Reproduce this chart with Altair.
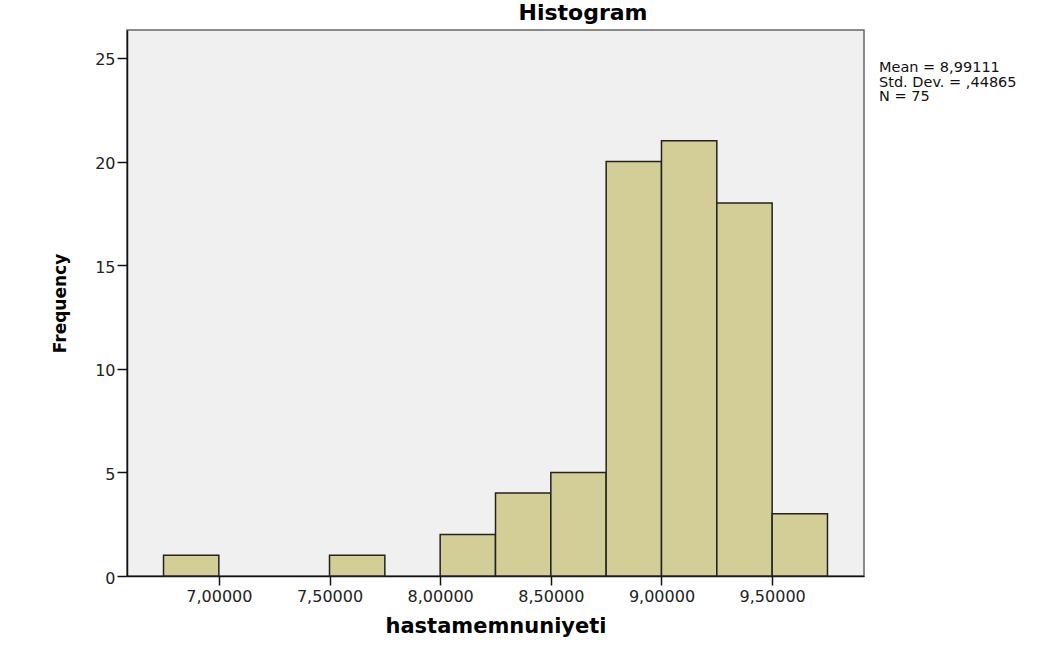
import altair as alt
import pandas as pd

# Histogram of hastamemnuniyeti, bin width 0.25
bin_start = [6.75, 7.00, 7.25, 7.50, 7.75, 8.00, 8.25, 8.50, 8.75, 9.00, 9.25, 9.50]
bin_end = [7.00, 7.25, 7.50, 7.75, 8.00, 8.25, 8.50, 8.75, 9.00, 9.25, 9.50, 9.75]
counts = [1, 0, 0, 1, 0, 2, 4, 5, 20, 21, 18, 3]

x_ticks = [7.0, 7.5, 8.0, 8.5, 9.0, 9.5]
y_ticks = [0, 5, 10, 15, 20, 25]

stats_lines = ["Mean = 8,99111", "Std. Dev. = ,44865", "N = 75"]
chart_title = "Histogram"

bars_df = pd.DataFrame({"start": bin_start, "end": bin_end, "count": counts})
bars_df = bars_df[bars_df["count"] > 0]

stats_df = pd.DataFrame({"line": stats_lines, "row": list(range(len(stats_lines)))})

W, H = 737, 546
FONT = "DejaVu Sans"

x_scale = alt.Scale(domain=[6.585, 9.915], zero=False, nice=False)
y_scale = alt.Scale(domain=[0, 26.35], nice=False)

bars = alt.Chart(bars_df).mark_rect(
    fill="#D3CE97", stroke="#222222", strokeWidth=1.5, opacity=1
).encode(
    x=alt.X(
        "start:Q",
        scale=x_scale,
        axis=alt.Axis(
            values=x_ticks,
            labelExpr="replace(format(datum.value, '.5f'), '.', ',')",
            title="hastamemnuniyeti",
            titleFont=FONT,
            titleFontSize=21,
            titleFontWeight="bold",
            titleColor="#000000",
            titleBaseline="alphabetic",
            titleY=56,
            labelFont=FONT,
            labelFontSize=16,
            labelColor="#222222",
            labelPadding=3,
            tickSize=9,
            tickColor="#111111",
            tickWidth=1.5,
            domainColor="#111111",
            domainWidth=1.5,
            grid=False,
            labelFlush=False,
            labelOverlap=False,
        ),
    ),
    x2="end:Q",
    y=alt.Y(
        "count:Q",
        scale=y_scale,
        axis=alt.Axis(
            values=y_ticks,
            title="Frequency",
            titleFont=FONT,
            titleFontSize=17,
            titleFontWeight="bold",
            titleColor="#000000",
            titleAngle=-90,
            titleBaseline="alphabetic",
            titleX=-62,
            titleY=H / 2,
            labelFont=FONT,
            labelFontSize=16,
            labelColor="#222222",
            labelPadding=2,
            labelOffset=2,
            tickSize=10,
            tickColor="#111111",
            tickWidth=1.5,
            domainColor="#111111",
            domainWidth=1.5,
            grid=False,
            labelOverlap=False,
        ),
    ),
    y2=alt.datum(0),
)

title_text = alt.Chart(pd.DataFrame({"t": [chart_title]})).mark_text(
    font=FONT, fontSize=22, fontWeight="bold", color="#000000",
    align="center", baseline="alphabetic",
).encode(
    x=alt.value(456),
    y=alt.value(-10),
    text="t:N",
)

# summary statistics block beside the plot, one line per row
stats_text = alt.Chart(stats_df).transform_calculate(
    py="42 + datum.row * 14.6"
).mark_text(
    font=FONT, fontSize=14.5, color="#111111", align="left", baseline="alphabetic",
).encode(
    x=alt.value(752),
    y=alt.Y("py:Q", scale=None, axis=None),
    text="line:N",
)

chart = alt.layer(bars, title_text, stats_text).properties(
    width=W,
    height=H,
    padding={"left": 127, "top": 30, "right": 179, "bottom": 69},
    autosize=alt.AutoSizeParams(type="none"),
    background="#FFFFFF",
).configure_view(
    fill="#F0F0F0", stroke="#666666", strokeWidth=1.5
)

chart.save("out.html", embed_options={"renderer": "svg", "actions": False})
